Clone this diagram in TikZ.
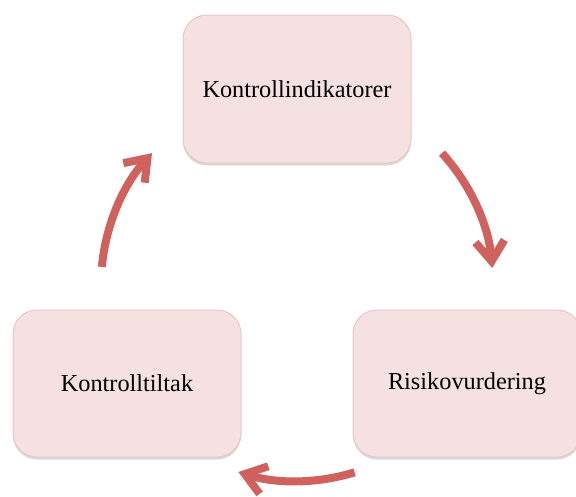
\documentclass[tikz,border=0pt]{standalone}
\usepackage{fontspec}
\setmainfont{Liberation Serif}
\usetikzlibrary{arrows.meta,shadows}
\definecolor{boxfill}{RGB}{245,225,225}
\definecolor{boxline}{RGB}{234,198,198}
\definecolor{arrowred}{RGB}{207,98,94}
\tikzset{
  cyclebox/.style={draw=boxline, line width=1pt, fill=boxfill, rounded corners=24pt,
    minimum width=228pt, minimum height=148pt, inner sep=0pt,
    font=\fontsize{24.3}{28}\selectfont,
    drop shadow={shadow xshift=0pt, shadow yshift=-2.5pt, opacity=0.25, fill=black!60}},
  cyclearrow/.style={draw=arrowred, line width=8pt,
    -{Straight Barb[length=20pt, width=29pt, line width=8pt]}}
}
\begin{document}
\begin{tikzpicture}[x=1pt,y=1pt]
\useasboundingbox (0,0) rectangle (576,-496);
\clip (0,0) rectangle (576,-496);
\node[cyclebox] (ki) at (297,-89) {Kontrollindikatorer};
\node[cyclebox, minimum height=147pt] (rv) at (467,-383.5) {Risikovurdering};
\node[cyclebox, minimum height=147pt] (kt) at (127,-383.5) {Kontrolltiltak};
\coordinate (c) at (297,-285);
\draw[cyclearrow] (c) ++(42.3:196) arc[start angle=42.3, end angle=5, radius=196];
\draw[cyclearrow] (c) ++(-72.9:196) arc[start angle=-72.9, end angle=-107.4, radius=196];
\draw[cyclearrow] (c) ++(174.7:196) arc[start angle=174.7, end angle=137.7, radius=196];
\end{tikzpicture}
\end{document}
